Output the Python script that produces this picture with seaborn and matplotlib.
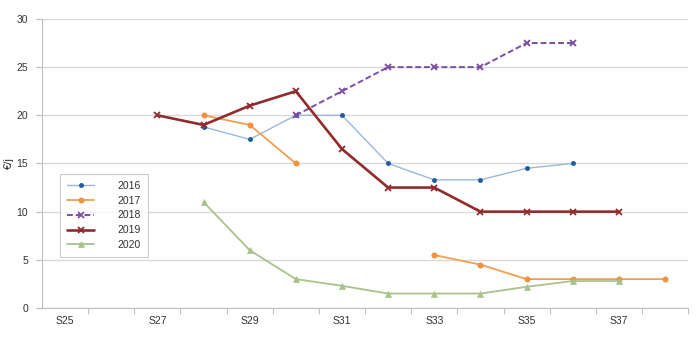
import matplotlib
matplotlib.use("Agg")
import matplotlib.pyplot as plt
import seaborn as sns
import pandas as pd
import numpy as np
from matplotlib.ticker import MultipleLocator, FixedLocator

weeks = ["S25", "S26", "S27", "S28", "S29", "S30", "S31", "S32", "S33", "S34", "S35", "S36", "S37", "S38"]
y2016 = [None, None, None, 18.8, 17.5, 20, 20, 15, 13.3, 13.3, 14.5, 15, None, None]
y2017 = [None, None, None, 20, 19, 15, None, None, 5.5, 4.5, 3, 3, 3, 3]
y2018 = [None, None, None, None, None, 20, 22.5, 25, 25, 25, 27.5, 27.5, None, None]
y2019 = [None, None, 20, 19, 21, 22.5, 16.5, 12.5, 12.5, 10, 10, 10, 10, None]
y2020 = [None, None, None, 11, 6, 3, 2.3, 1.5, 1.5, 1.5, 2.2, 2.8, 2.8, None]
series_names = ["2016", "2017", "2018", "2019", "2020"]
series_values = [y2016, y2017, y2018, y2019, y2020]

styles = {
    "2016": dict(color="#9BB7DE", mcolor="#1F5C9E", marker="o", ms=3.0, lw=1.0, ls="-"),
    "2017": dict(color="#F0A050", mcolor="#EE9240", marker="o", ms=3.8, lw=1.3, ls="-"),
    "2018": dict(color="#7B4EA3", mcolor="#7B4EA3", marker="x", ms=4.0, lw=1.4, ls=(0, (3, 1.5))),
    "2019": dict(color="#922B2B", mcolor="#922B2B", marker="x", ms=4.2, lw=1.9, ls="-"),
    "2020": dict(color="#A9C28C", mcolor="#A9C28C", marker="^", ms=4.2, lw=1.3, ls="-"),
}

rows = []
for name, vals in zip(series_names, series_values):
    seg = 0
    prev_none = True
    for i, v in enumerate(vals):
        if v is None:
            prev_none = True
            continue
        if prev_none:
            seg += 1
        prev_none = False
        rows.append(dict(series=name, x=i, y=v, seg=f"{name}_{seg}"))
df = pd.DataFrame(rows)

sns.set_theme(style="white")
plt.rcParams['font.family'] = ['Liberation Sans', 'DejaVu Sans']

fig = plt.figure(figsize=(7.0, 3.51), dpi=100)
ax = fig.add_axes([0.06, 0.1225, 0.923, 0.8235])

for name in series_names:
    st = styles[name]
    sub = df[df.series == name]
    first = True
    for seg, g in sub.groupby("seg", sort=False):
        sns.lineplot(data=g, x="x", y="y", ax=ax, color=st["color"], lw=st["lw"],
                     linestyle=st["ls"], marker=st["marker"], markersize=st["ms"],
                     markerfacecolor=st["mcolor"], markeredgecolor=st["mcolor"],
                     markeredgewidth=1.3 if st["marker"] == "x" else 0.5,
                     label=name if first else "_nolegend_", legend=False,
                     estimator=None, sort=False)
        first = False

ax.set_xlim(-0.5, 13.5)
ax.set_ylim(0, 30)
ax.yaxis.set_major_locator(MultipleLocator(5))
ax.grid(axis="y", color="#D9D9D9", lw=1.0)
ax.set_axisbelow(True)

ax.set_xticks(list(range(0, 14, 2)))
ax.set_xticklabels([weeks[i] for i in range(0, 14, 2)])
ax.xaxis.set_minor_locator(FixedLocator([k - 0.5 for k in range(1, 15)]))
ax.tick_params(axis="x", which="major", length=0, pad=6, labelsize=7.5, labelcolor="#333333")
ax.tick_params(axis="x", which="minor", length=4, color="#BFBFBF", width=0.8, bottom=True)
ax.tick_params(axis="y", which="major", length=4, color="#BFBFBF", width=0.8, left=True,
               labelsize=7.5, labelcolor="#333333", pad=6)
for s in ["top", "right"]:
    ax.spines[s].set_visible(False)
for s in ["left", "bottom"]:
    ax.spines[s].set_color("#BFBFBF")
    ax.spines[s].set_linewidth(0.8)

ax.set_xlabel("")
ax.set_ylabel("€/j", fontsize=8, color="#333333", labelpad=2)

handles, labels = ax.get_legend_handles_labels()
leg = ax.legend(handles, labels, loc="lower left", bbox_to_anchor=(0.028, 0.176),
                frameon=True, fancybox=False, edgecolor="#BFBFBF",
                handlelength=2.6, labelspacing=0.45, borderpad=0.7, handletextpad=2.2,
                borderaxespad=0, prop=dict(size=7.5))
leg.get_frame().set_linewidth(0.8)
for t in leg.get_texts():
    t.set_color("#333333")

fig.savefig("out.png", dpi=100)
